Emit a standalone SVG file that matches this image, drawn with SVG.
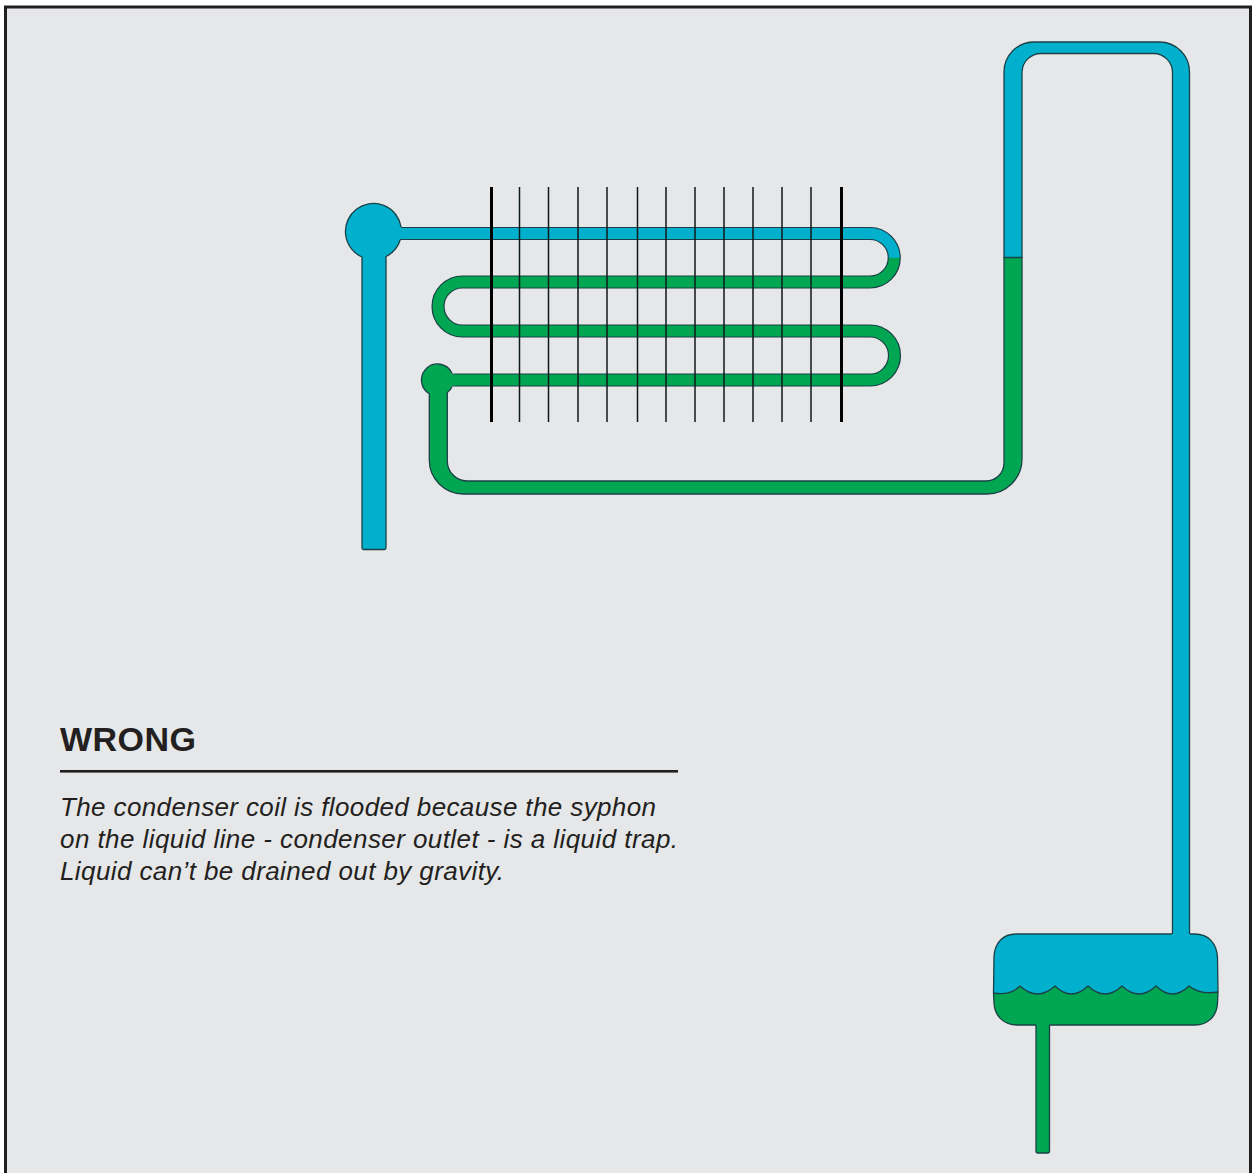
<svg xmlns="http://www.w3.org/2000/svg" width="1252" height="1173" viewBox="0 0 1252 1173">
<style>
.blue{fill:#00b0cd}
.green{fill:#00a651}
.edge{stroke:#1a4147;stroke-width:1.3;stroke-linejoin:round}
.none{stroke:none}
.open{fill:none}
.pipeo{fill:none;stroke:#1a4147;stroke-width:13.2}
.pipef{fill:none;stroke-width:10.8}
.sb{stroke:#00b0cd}
.sg{stroke:#00a651}
.fin{stroke:#10191b;stroke-width:1.5;fill:none}
.finb{stroke:#000;stroke-width:3;fill:none}
text{font-family:"Liberation Sans",Arial,Helvetica,sans-serif;fill:#231f20}
.title{font-size:34px;font-weight:700}
.body{font-size:26px;font-style:italic}
</style>
<rect x="0" y="0" width="1252" height="1173" fill="#ffffff"/>
<rect id="frame" x="5.500" y="7" width="1245" height="1175" fill="#e6e7e8" stroke="#231f20" stroke-width="3"/>
<g id="connectors">
<path id="coil-outline" class="pipeo" d="M395 233.5H870A24.25 24.25 0 0 1 870 282H462.5A24.5 24.5 0 0 0 462.5 331H870A24.5 24.5 0 0 1 870 380H445"/>
<path id="coil-blue" class="pipef sb" d="M392 233.5H870A24.25 24.25 0 0 1 894.25 258"/>
<path id="coil-green" class="pipef sg" d="M894.25 257.8A24.25 24.25 0 0 1 870 282H462.5A24.5 24.5 0 0 0 462.5 331H870A24.5 24.5 0 0 1 870 380H445"/>
<path id="riser-blue" class="blue edge" d="M1022 258V72A19 19 0 0 1 1041 53.5H1153.5A19 19 0 0 1 1172.5 72V938H1189.5V72A30 30 0 0 0 1159.5 42H1034A30 30 0 0 0 1004 72V258"/>
<path id="line-green" class="green edge" d="M451.9 373A16 16 0 1 0 429.3 393.7V460A34 34 0 0 0 463.3 494H987A35 35 0 0 0 1022 459V257.5H1004V463A18 18 0 0 1 986 481H467A20 20 0 0 1 447.3 461V392.6A16 16 0 0 0 451.9 387"/>
<path id="drop-green" class="green edge" d="M1036 1022V1151Q1036 1153 1038 1153H1047.5Q1049.5 1153 1049.5 1151V1022"/>
</g>
<g id="header">
<path class="blue edge" d="M401.1 227A28 28 0 1 0 362 257V547.5Q362 549.500 363.500 549.500H384.500Q386 549.500 386 547.500V256.5A28 28 0 0 0 400.2 240"/>
<path class="pipef sb" d="M392 233.5H404"/>
</g>
<g id="outlet-header">
<path class="pipef sg" d="M445 380H456"/>
</g>
<g id="fins">
<path class="finb" d="M491.5 187V422M841.5 187V422"/>
<path class="fin" d="M519.5 187V422M548.5 187V422M578 187V422M607 187V422M637.5 187V422M666 187V422M695 187V422M724 187V422M753 187V422M782 187V422M811 187V422"/>
</g>
<g id="receiver">
<path class="blue none" d="M993.500 993L994 957C994.500 943 1003 934 1016 934H1195C1208 934 1217 943 1217.500 958L1218 992Q1200 995 1189 986Q1172.500 1002 1156 986Q1139 1002 1122 986Q1105 1002 1088 986Q1071.500 1002 1055 986Q1037.500 1002 1020 986Q1010 996 993.500 993Z"/>
<path class="green none" d="M993.500 993Q1010 996 1020 986Q1037.500 1002 1055 986Q1071.500 1002 1088 986Q1105 1002 1122 986Q1139 1002 1156 986Q1172.500 1002 1189 986Q1200 995 1218 992L1217.500 1003C1217 1016 1208 1025 1195 1025H1017C1004 1025 994.500 1016 994 1003Z"/>
<path class="open edge" d="M1190 934H1195C1208 934 1217 943 1217.500 958L1218 992L1217.500 1003C1217 1016 1208 1025 1195 1025H1049.500M1036 1025H1017C1004 1025 994.500 1016 994 1003L993.500 993L994 957C994.500 943 1003 934 1016 934H1172"/>
<path class="open edge" d="M993.500 993Q1010 996 1020 986Q1037.500 1002 1055 986Q1071.500 1002 1088 986Q1105 1002 1122 986Q1139 1002 1156 986Q1172.500 1002 1189 986Q1200 995 1218 992"/>
</g>
<g id="caption">
<text class="title" x="60" y="751" textLength="136" lengthAdjust="spacing">WRONG</text>
<rect x="60" y="770" width="618" height="2.6" fill="#231f20"/>
<text class="body" x="60" y="815.5" textLength="596" lengthAdjust="spacing">The condenser coil is flooded because the syphon</text>
<text class="body" x="60" y="847.5" textLength="618" lengthAdjust="spacing">on the liquid line - condenser outlet - is a liquid trap.</text>
<text class="body" x="60" y="879.5" textLength="444" lengthAdjust="spacing">Liquid can’t be drained out by gravity.</text>
</g>
</svg>
